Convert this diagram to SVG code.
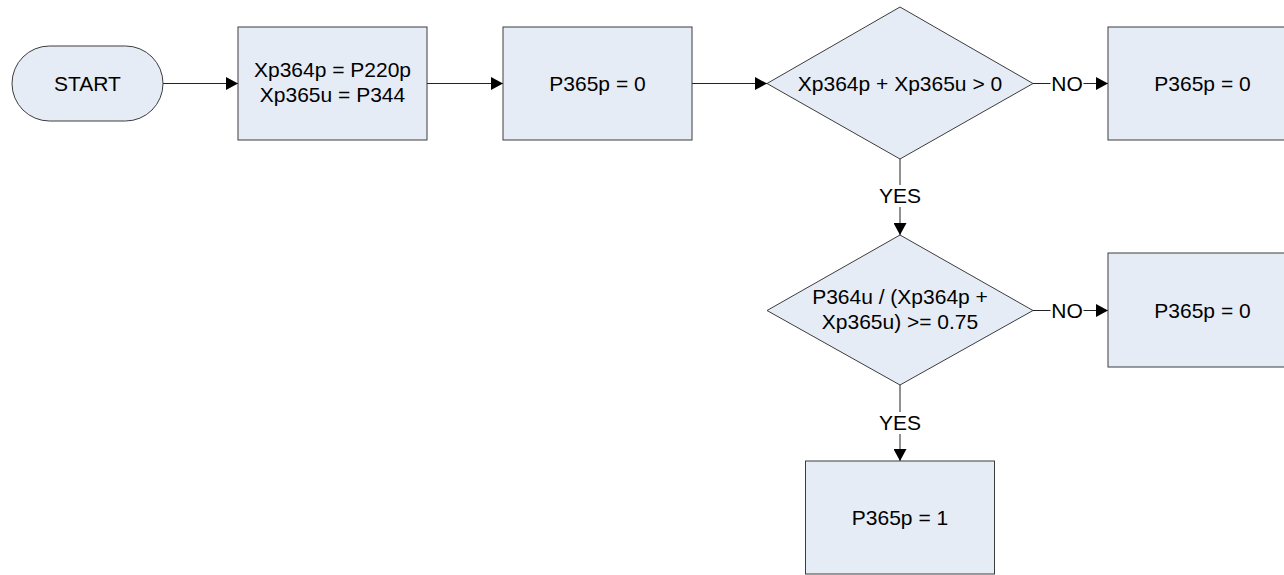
<svg xmlns="http://www.w3.org/2000/svg" width="1284" height="575" viewBox="0 0 1284 575">
<style>
.shape{fill:#E6ECF6;stroke:#3c3c3c;stroke-width:1}
.t{font-family:"Liberation Sans",Arial,sans-serif;font-size:21px;fill:#000;text-anchor:middle}
.c{fill:none;stroke:#222;stroke-width:1}
.lbl{fill:#fff}
</style>
<defs>
<marker id="arr" markerUnits="userSpaceOnUse" markerWidth="13" markerHeight="13" refX="12" refY="6.5" orient="auto">
<path d="M0,0 L12,6.5 L0,13 Z" fill="#000"/>
</marker>
</defs>
<rect width="1284" height="575" fill="#fff"/>
<g id="connectors">
<line class="c" x1="163" y1="83.5" x2="238" y2="83.5" marker-end="url(#arr)"/>
<line class="c" x1="427" y1="83.5" x2="503" y2="83.5" marker-end="url(#arr)"/>
<line class="c" x1="692" y1="83.5" x2="767" y2="83.5" marker-end="url(#arr)"/>
<line class="c" x1="1033" y1="83.5" x2="1108" y2="83.5" marker-end="url(#arr)"/>
<rect class="lbl" x="1050.5" y="70" width="33" height="28"/>
<text class="t" x="1067" y="91">NO</text>
<line class="c" x1="900" y1="159" x2="900" y2="235" marker-end="url(#arr)"/>
<rect class="lbl" x="880" y="185" width="40" height="22"/>
<text class="t" x="900" y="203">YES</text>
<line class="c" x1="1033" y1="310.5" x2="1108" y2="310.5" marker-end="url(#arr)"/>
<rect class="lbl" x="1050.5" y="297" width="33" height="28"/>
<text class="t" x="1067" y="318">NO</text>
<line class="c" x1="900" y1="385" x2="900" y2="461" marker-end="url(#arr)"/>
<rect class="lbl" x="880" y="412" width="40" height="22"/>
<text class="t" x="900" y="430">YES</text>
</g>
<g id="start">
<rect class="shape" x="12" y="46" width="151" height="75" rx="37.5" ry="37.5"/>
<text class="t" x="87.5" y="90.5">START</text>
</g>
<g id="assign">
<rect class="shape" x="238" y="27" width="189" height="113"/>
<text class="t" x="332.5" y="77">Xp364p = P220p</text>
<text class="t" x="332.5" y="102">Xp365u = P344</text>
</g>
<g id="init">
<rect class="shape" x="503" y="27" width="189" height="113"/>
<text class="t" x="597.5" y="90.5">P365p = 0</text>
</g>
<g id="decision1">
<polygon class="shape" points="900,7 1033,83.5 900,159 767,83.5"/>
<text class="t" x="900" y="90.5">Xp364p + Xp365u &gt; 0</text>
</g>
<g id="no1">
<rect class="shape" x="1108" y="27" width="189" height="113"/>
<text class="t" x="1202.5" y="90.5">P365p = 0</text>
</g>
<g id="decision2">
<polygon class="shape" points="900,235 1033,310.5 900,385 767,310.5"/>
<text class="t" x="900" y="304">P364u / (Xp364p +</text>
<text class="t" x="900" y="329">Xp365u) &gt;= 0.75</text>
</g>
<g id="no2">
<rect class="shape" x="1108" y="253" width="189" height="114"/>
<text class="t" x="1202.5" y="317.5">P365p = 0</text>
</g>
<g id="yes2">
<rect class="shape" x="805.5" y="461" width="189" height="113"/>
<text class="t" x="900" y="525">P365p = 1</text>
</g>
</svg>
